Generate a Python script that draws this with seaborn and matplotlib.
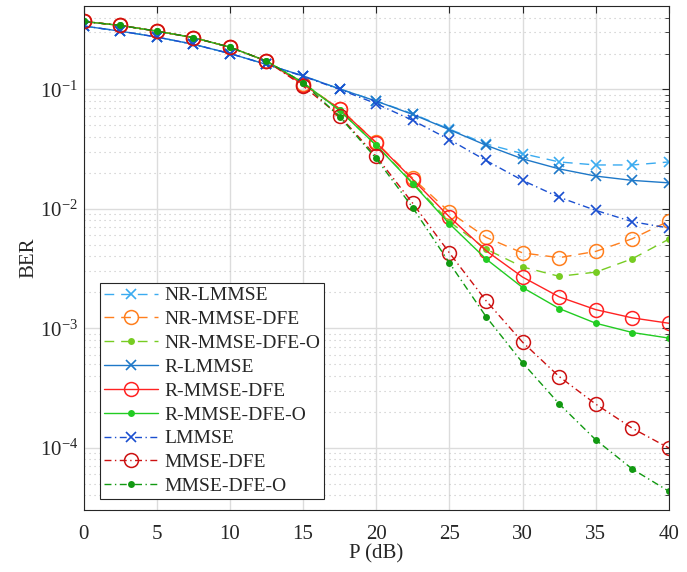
import numpy as np
import pandas as pd
import seaborn as sns
import matplotlib
matplotlib.use("Agg")
import matplotlib.pyplot as plt
from matplotlib.ticker import LogLocator, FixedLocator, NullFormatter

# Transmit power (dB)
power_db = [0, 2.5, 5, 7.5, 10, 12.5, 15, 17.5, 20, 22.5, 25, 27.5, 30, 32.5, 35, 37.5, 40]

# Bit error rate per receiver
ber_nr_lmmse = [0.34, 0.308, 0.275, 0.239, 0.200, 0.162, 0.130, 0.101, 0.080, 0.0625, 0.0465,
                0.035, 0.029, 0.0247, 0.0233, 0.0233, 0.0247]
ber_nr_mmse_dfe = [0.371, 0.344, 0.308, 0.272, 0.226, 0.173, 0.112, 0.069, 0.036, 0.018, 0.0094,
                   0.00577, 0.00427, 0.0039, 0.0044, 0.00562, 0.00792]
ber_nr_mmse_dfe_o = [0.371, 0.344, 0.308, 0.272, 0.226, 0.173, 0.114, 0.0667, 0.034, 0.0165, 0.0078,
                     0.0046, 0.00326, 0.00272, 0.00295, 0.00382, 0.00558]
ber_r_lmmse = [0.34, 0.308, 0.275, 0.239, 0.200, 0.162, 0.130, 0.101, 0.0798, 0.0617, 0.046,
               0.0341, 0.0262, 0.0216, 0.0188, 0.0173, 0.0165]
ber_r_mmse_dfe = [0.371, 0.344, 0.308, 0.272, 0.226, 0.173, 0.110, 0.069, 0.0357, 0.0176, 0.00855,
                  0.00446, 0.00268, 0.00183, 0.00143, 0.00122, 0.0011]
ber_r_mmse_dfe_o = [0.371, 0.344, 0.308, 0.272, 0.226, 0.173, 0.114, 0.0667, 0.034, 0.0162, 0.0075,
                    0.0038, 0.00219, 0.00146, 0.0011, 0.00092, 0.000826]
ber_lmmse = [0.34, 0.308, 0.275, 0.239, 0.200, 0.162, 0.129, 0.100, 0.076, 0.055, 0.038,
             0.0254, 0.0173, 0.0125, 0.0097, 0.0078, 0.0069]
ber_mmse_dfe = [0.371, 0.344, 0.308, 0.272, 0.226, 0.173, 0.107, 0.060, 0.0275, 0.0111, 0.00427,
                0.0017, 0.000763, 0.000393, 0.000231, 0.000145, 0.000099]
ber_mmse_dfe_o = [0.371, 0.344, 0.308, 0.272, 0.226, 0.173, 0.114, 0.059, 0.0264, 0.0102, 0.00352,
                  0.00125, 0.000513, 0.000232, 0.000116, 0.000066, 0.000043]

series_names = ["NR-LMMSE", "NR-MMSE-DFE", "NR-MMSE-DFE-O",
                "R-LMMSE", "R-MMSE-DFE", "R-MMSE-DFE-O",
                "LMMSE", "MMSE-DFE", "MMSE-DFE-O"]
series_values = [ber_nr_lmmse, ber_nr_mmse_dfe, ber_nr_mmse_dfe_o,
                 ber_r_lmmse, ber_r_mmse_dfe, ber_r_mmse_dfe_o,
                 ber_lmmse, ber_mmse_dfe, ber_mmse_dfe_o]

colors = ["#3AABF0", "#FF7F1E", "#77CC22",
          "#1E78C8", "#FF2222", "#22CC22",
          "#1A4FD0", "#CC1111", "#119911"]
dash_dot = (0, (5, 2.5, 1, 2.5))
linestyles = [(0, (7, 5))] * 3 + ["-"] * 3 + [dash_dot] * 3
markers = ["x", "o", "."] * 3

sns.set_style("white")
plt.rcParams["font.family"] = ["Liberation Serif", "DejaVu Serif"]
plt.rcParams["mathtext.fontset"] = "custom"
plt.rcParams["mathtext.rm"] = "Liberation Serif"
plt.rcParams["mathtext.it"] = "Liberation Serif:italic"

fig = plt.figure(figsize=(6.87, 5.72), dpi=100)
ax = fig.add_axes([83.5 / 687, 62 / 572, 585.5 / 687, 504 / 572])

df = pd.DataFrame({
    "P": np.tile(power_db, len(series_names)),
    "BER": np.concatenate(series_values),
    "scheme": np.repeat(series_names, len(power_db)),
})

for name, col, ls, mk in zip(series_names, colors, linestyles, markers):
    sub = df[df["scheme"] == name]
    if mk == "o":
        mkw = dict(markersize=10, markerfacecolor="none", markeredgewidth=1.1)
    elif mk == "x":
        mkw = dict(markersize=7.5, markeredgewidth=1.2)
    else:
        mkw = dict(markersize=10, markeredgewidth=0, markerfacecolor=col)
    sns.lineplot(data=sub, x="P", y="BER", ax=ax, color=col, linestyle=ls,
                 marker=mk, markeredgecolor=col, linewidth=1.0, label=name, **mkw)

ax.set_yscale("log")
ax.set_xlim(0, 40)
ax.set_ylim(3e-5, 0.5)
ax.set_xticks(np.arange(0, 41, 5))
ax.yaxis.set_major_locator(FixedLocator([1e-4, 1e-3, 1e-2, 1e-1]))
ax.yaxis.set_minor_locator(LogLocator(base=10, subs=np.arange(2, 10), numticks=20))
ax.yaxis.set_minor_formatter(NullFormatter())

ax.grid(which="major", color="#dcdcdc", linewidth=1.0, linestyle="-")
ax.grid(which="minor", axis="y", color="#c4c4c4", linewidth=0.8, linestyle=(0, (1, 3.5)))
ax.set_axisbelow(True)

for side in ["top", "right", "left", "bottom"]:
    ax.spines[side].set_visible(True)
    ax.spines[side].set_color("#262626")
    ax.spines[side].set_linewidth(0.8)
ax.tick_params(which="both", direction="in", top=True, right=True,
               colors="#262626", labelsize=15, labelcolor="#262626")
ax.tick_params(which="major", length=5, width=0.8)
ax.tick_params(which="minor", length=3, width=0.6)
ax.tick_params(axis="x", which="major", pad=11)
ax.tick_params(axis="y", which="major", pad=4)

ax.set_xlabel("P (dB)", fontsize=15, color="#262626", labelpad=0)
ax.set_ylabel("BER", fontsize=15, color="#262626", labelpad=1)

leg = ax.legend(loc="lower left", bbox_to_anchor=(0.028, 0.022), borderaxespad=0,
                fontsize=14, frameon=True, fancybox=False, edgecolor="#262626",
                handlelength=2.8, handletextpad=0.3, labelspacing=0.32,
                borderpad=0.2, framealpha=1)
leg.get_frame().set_linewidth(0.8)

fig.savefig("out.png", dpi=100)
